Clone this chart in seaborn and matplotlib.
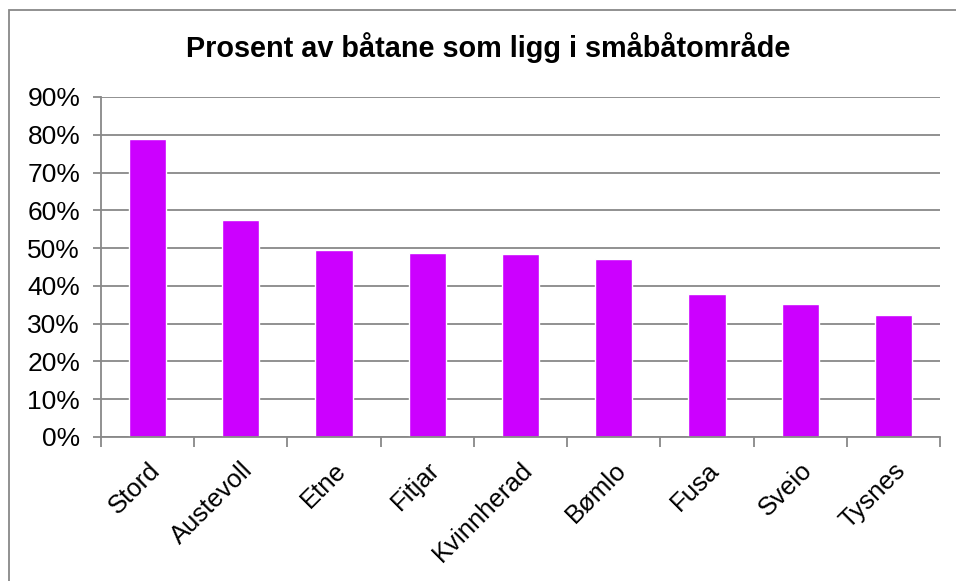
import seaborn as sns
import matplotlib.pyplot as plt
import matplotlib.patches as mpatches
from matplotlib.ticker import FixedLocator, PercentFormatter

kommunar = ['Stord', 'Austevoll', 'Etne', 'Fitjar', 'Kvinnherad',
            'Bømlo', 'Fusa', 'Sveio', 'Tysnes']
prosent = [78.8, 57.4, 49.6, 48.7, 48.4, 47.1, 37.8, 35.1, 32.3]
y_ticks = [0, 10, 20, 30, 40, 50, 60, 70, 80, 90]
tittel = 'Prosent av båtane som ligg i småbåtområde'

sns.set_theme(style="white")
plt.rcParams['font.family'] = ['Liberation Sans', 'DejaVu Sans']
plt.rcParams['text.color'] = 'black'

fig = plt.figure(figsize=(9.56, 5.81), dpi=100)
ax = fig.add_axes([101 / 956, 144 / 581, 839 / 956, 340 / 581])

sns.barplot(x=kommunar, y=prosent, color='#CC00FF', width=0.4,
            saturation=1, ax=ax)

ax.set_xlim(-0.5, len(kommunar) - 0.5)
ax.set_ylim(0, 90)
ax.set_yticks(y_ticks)
ax.yaxis.set_major_formatter(PercentFormatter(decimals=0))
ax.grid(axis='y', color='#888888', linewidth=1.3)
ax.set_axisbelow(True)

# ticks between the categories, like the spreadsheet original
ax.xaxis.set_minor_locator(FixedLocator([i - 0.5 for i in range(len(kommunar) + 1)]))
ax.tick_params(axis='x', which='major', length=0, pad=15, labelsize=18.5,
               labelcolor='black')
ax.tick_params(axis='x', which='minor', length=7, color='#888888', width=1.3, bottom=True)
ax.tick_params(axis='y', length=6, color='#888888', width=1.3, left=True,
               labelsize=19, labelcolor='black', pad=9)
plt.setp(ax.get_xticklabels(), rotation=45, ha='right', rotation_mode='anchor')

for side in ['top', 'right']:
    ax.spines[side].set_visible(False)
for side in ['left', 'bottom']:
    ax.spines[side].set_color('#888888')
    ax.spines[side].set_linewidth(1.3)

fig.text(0.511, 1 - 48 / 581, tittel, ha='center', va='center',
         fontsize=20.8, fontweight='bold', color='black')

# chart area frame
fig.add_artist(mpatches.Rectangle((9 / 956, -0.1), 2, (571 / 581) + 0.1,
                                  transform=fig.transFigure, fill=False,
                                  edgecolor='#888888', linewidth=1.3))

fig.savefig('out.png', dpi=100)
